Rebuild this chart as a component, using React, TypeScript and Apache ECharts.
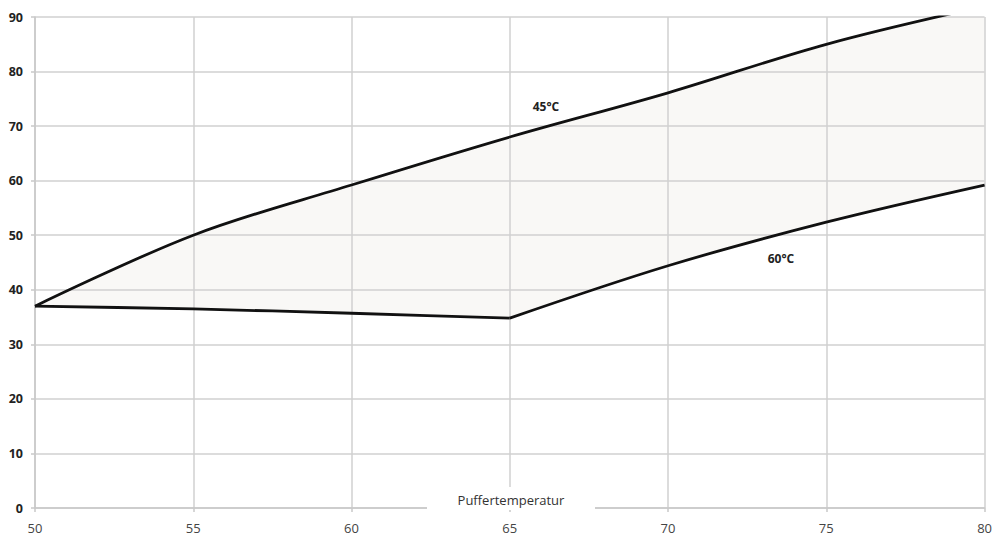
import React, { useEffect, useRef } from "react";
import * as echarts from "echarts";

const xTicks = [50, 55, 60, 65, 70, 75, 80];
const upper45 = [37, 50, 59.2, 68, 76.1, 85, 92];
const lowerLeftX = [50, 55, 60, 65];
const lowerLeft = [37, 36.5, 35.7, 34.8];
const lower60X = [65, 70, 75, 80];
const lower60 = [34.8, 44.4, 52.4, 59.2];
const xAxisName = "Puffertemperatur";
const label45 = "45°C";
const label60 = "60°C";

const pairs = (xs: number[], ys: number[]) => xs.map((x, i) => [x, ys[i]]);

export default function App() {
  const ref = useRef<HTMLDivElement>(null);
  useEffect(() => {
    if (!ref.current) return;
    const chart = echarts.init(ref.current, undefined, { renderer: "svg" });
    const font = "'Open Sans', 'Liberation Sans', sans-serif";
    const lineStyle = { color: "#111", width: 2.8 };
    chart.setOption({
      animation: false,
      backgroundColor: "#fff",
      grid: { left: 35, right: 9, top: 17, bottom: 28 },
      xAxis: {
        type: "value",
        min: 50,
        max: 80,
        interval: 5,
        z: 3,
        axisLine: { show: true, lineStyle: { color: "#c8c8c8", width: 1.5 } },
        axisTick: { show: true, length: 4, lineStyle: { color: "#c8c8c8", width: 1.5 } },
        splitLine: { show: true, lineStyle: { color: "#d0d0d0", width: 1.5 } },
        axisLabel: { color: "#444", fontFamily: font, fontSize: 13, margin: 13 },
      },
      yAxis: {
        type: "value",
        min: 0,
        max: 90,
        interval: 10,
        z: 3,
        axisLine: { show: true, lineStyle: { color: "#c8c8c8", width: 1.5 } },
        axisTick: { show: true, length: 4, lineStyle: { color: "#c8c8c8", width: 1.5 } },
        splitLine: { show: true, lineStyle: { color: "#d0d0d0", width: 1.5 } },
        axisLabel: { color: "#222", fontFamily: font, fontSize: 12.5, fontWeight: "bold", margin: 12 },
      },
      series: [
        {
          type: "line",
          z: 1,
          data: pairs(xTicks, upper45),
          smooth: 0.35,
          symbol: "none",
          lineStyle: { width: 0 },
          areaStyle: { color: "#f9f8f6", opacity: 1, origin: "start" },
          silent: true,
        },
        {
          type: "line",
          z: 1,
          data: pairs(lowerLeftX, lowerLeft),
          smooth: 0.2,
          symbol: "none",
          lineStyle: { width: 0 },
          areaStyle: { color: "#fff", opacity: 1, origin: "start" },
          silent: true,
        },
        {
          type: "line",
          z: 1,
          data: pairs(lower60X, lower60),
          smooth: 0.35,
          symbol: "none",
          lineStyle: { width: 0 },
          areaStyle: { color: "#fff", opacity: 1, origin: "start" },
          silent: true,
        },
        {
          type: "line",
          z: 5,
          data: pairs(xTicks, upper45),
          smooth: 0.35,
          symbol: "none",
          lineStyle,
        },
        {
          type: "line",
          z: 5,
          data: pairs(lowerLeftX, lowerLeft),
          smooth: 0.2,
          symbol: "none",
          lineStyle,
        },
        {
          type: "line",
          z: 5,
          data: pairs(lower60X, lower60),
          smooth: 0.35,
          symbol: "none",
          lineStyle,
        },
      ],
      graphic: [
        {
          type: "rect",
          z: 100,
          shape: { x: 427, y: 487, width: 168, height: 23 },
          style: { fill: "#fff" },
        },
        {
          type: "text",
          z: 101,
          x: 511,
          y: 500,
          style: {
            text: xAxisName,
            fill: "#333",
            font: `13px ${font}`,
            align: "center",
            verticalAlign: "middle",
          },
        },
        {
          type: "text",
          z: 101,
          x: 546,
          y: 106,
          style: {
            text: label45,
            fill: "#222",
            font: `bold 12px ${font}`,
            align: "center",
            verticalAlign: "middle",
          },
        },
        {
          type: "text",
          z: 101,
          x: 781,
          y: 258,
          style: {
            text: label60,
            fill: "#222",
            font: `bold 12px ${font}`,
            align: "center",
            verticalAlign: "middle",
          },
        },
      ],
    });
    return () => chart.dispose();
  }, []);
  return (
    <div
      ref={ref}
      style={{ position: "absolute", left: 0, top: 0, width: 995, height: 536 }}
    />
  );
}
